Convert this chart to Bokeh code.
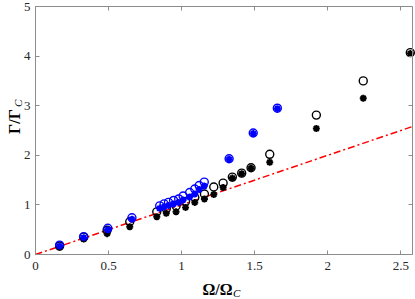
import math
from bokeh.plotting import figure
from bokeh.models import Range1d, FixedTicker, LinearAxis, Label
from bokeh.embed import file_html
from bokeh.resources import INLINE

# ---- data ----
black_x = [0.165, 0.33, 0.49, 0.645, 0.83, 0.895, 0.962, 1.027, 1.09, 1.156, 1.22, 1.284, 1.347, 1.411, 1.475, 1.603, 1.922, 2.243, 2.565]
black_circle_y = [0.17, 0.35, 0.49, 0.66, 0.86, 0.92, 0.98, 1.07, 1.15, 1.22, 1.36, 1.44, 1.56, 1.64, 1.75, 2.02, 2.81, 3.50, 4.07]
black_star_y = [0.15, 0.31, 0.42, 0.56, 0.76, 0.83, 0.86, 0.95, 1.05, 1.12, 1.21, 1.35, 1.54, 1.63, 1.74, 1.86, 2.54, 3.15, 4.05]

blue_x = [0.165, 0.33, 0.495, 0.66, 0.85, 0.88, 0.91, 0.945, 0.98, 1.01, 1.055, 1.09, 1.12, 1.155, 1.325, 1.49, 1.655]
blue_circle_y = [0.19, 0.36, 0.53, 0.74, 0.98, 1.02, 1.05, 1.09, 1.12, 1.18, 1.25, 1.32, 1.39, 1.46, 1.93, 2.45, 2.95]
blue_star_y = [0.17, 0.34, 0.50, 0.71, 0.93, 0.96, 0.99, 1.02, 1.05, 1.10, 1.16, 1.22, 1.31, 1.38, 1.92, 2.44, 2.94]

ref_x = [0.0, 2.58]
ref_y = [0.0, 2.58]

x_ticks = [0, 0.5, 1, 1.5, 2, 2.5]
x_tick_labels = ["0", "0.5", "1", "1.5", "2", "2.5"]
y_ticks = [0, 1, 2, 3, 4, 5]
y_tick_labels = ["0", "1", "2", "3", "4", "5"]

XMAX = 2.58
YMAX = 5.0

# pixel geometry of the axes box inside the 415x299 canvas
W, H = 415, 299
BOX_L, BOX_R, BOX_T, BOX_B = 35, 412, 6, 254
kx = (BOX_R - BOX_L) / XMAX      # px per x unit
ky = (BOX_B - BOX_T) / YMAX      # px per y unit

p = figure(width=W, height=H, output_backend="svg", toolbar_location=None,
           x_range=Range1d(-BOX_L / kx, XMAX + (W - BOX_R) / kx),
           y_range=Range1d(-(H - BOX_B) / ky, YMAX + BOX_T / ky),
           min_border_left=0, min_border_right=0, min_border_top=0, min_border_bottom=0)
p.xaxis.visible = False
p.yaxis.visible = False
p.grid.visible = False
p.outline_line_color = None
p.background_fill_color = "white"
p.border_fill_color = "white"

AX = "#8c8c8c"
TXT = "#262626"
FONT = "Liberation Serif"

def make_axis(ticks, labels, loc, bounds):
    ax = LinearAxis(ticker=FixedTicker(ticks=ticks), fixed_location=loc, bounds=bounds)
    ax.axis_line_color = AX
    ax.axis_line_width = 1
    ax.major_tick_line_color = AX
    ax.major_tick_in = 4
    ax.major_tick_out = 0
    ax.minor_tick_line_color = None
    ax.major_label_text_font = FONT
    ax.major_label_text_color = TXT
    ax.major_label_text_font_size = "13px"
    if labels is None:
        ax.major_label_overrides = {t: "" for t in ticks}
        ax.major_label_standoff = 0
    else:
        ax.major_label_overrides = {t: l for t, l in zip(ticks, labels)}
    return ax

xb = make_axis(x_ticks, x_tick_labels, 0, (0, XMAX))
xb.major_label_standoff = 7
p.add_layout(xb, "below")

yl = make_axis(y_ticks, y_tick_labels, 0, (0, YMAX))
yl.major_label_standoff = 5
p.add_layout(yl, "left")

xt = make_axis(x_ticks, None, YMAX, (0, XMAX))
p.add_layout(xt, "above")
yr = make_axis(y_ticks, None, XMAX, (0, YMAX))
p.add_layout(yr, "right")

# reference line
p.line(ref_x, ref_y, line_color="#ff0000", line_width=1.5, line_dash="7 3 2 3")

# markers
p.scatter(black_x, black_circle_y, marker="circle", size=8, fill_color=None,
          line_color="black", line_width=1.4)
p.scatter(blue_x, blue_circle_y, marker="circle", size=8, fill_color=None,
          line_color="#0000ff", line_width=1.4)
p.scatter(black_x, black_star_y, marker="asterisk", size=7,
          line_color="black", line_width=2)
p.scatter(blue_x, blue_star_y, marker="asterisk", size=7,
          line_color="#0000ff", line_width=2)

# axis labels built from text pieces
def dx(px):
    return (px - BOX_L) / kx
def dy(py):
    return (BOX_B - py) / ky

p.add_layout(Label(x=dx(217), y=dy(289), text="Ω/Ω", text_font=FONT,
                   text_font_size="16px", text_font_style="bold", text_color="black",
                   text_align="center", text_baseline="alphabetic"))
p.add_layout(Label(x=dx(232.5), y=dy(292), text="C", text_font=FONT,
                   text_font_size="11px", text_font_style="italic", text_color="black",
                   text_align="left", text_baseline="alphabetic"))
p.add_layout(Label(x=dx(14), y=dy(121), text="Γ/Γ", text_font=FONT,
                   text_font_size="16px", text_font_style="bold", text_color="black",
                   text_align="center", text_baseline="alphabetic", angle=math.pi / 2))
p.add_layout(Label(x=dx(17), y=dy(106.5), text="C", text_font=FONT,
                   text_font_size="11px", text_font_style="italic", text_color="black",
                   text_align="left", text_baseline="alphabetic", angle=math.pi / 2))

open("out.html", "w").write(file_html(p, INLINE))
